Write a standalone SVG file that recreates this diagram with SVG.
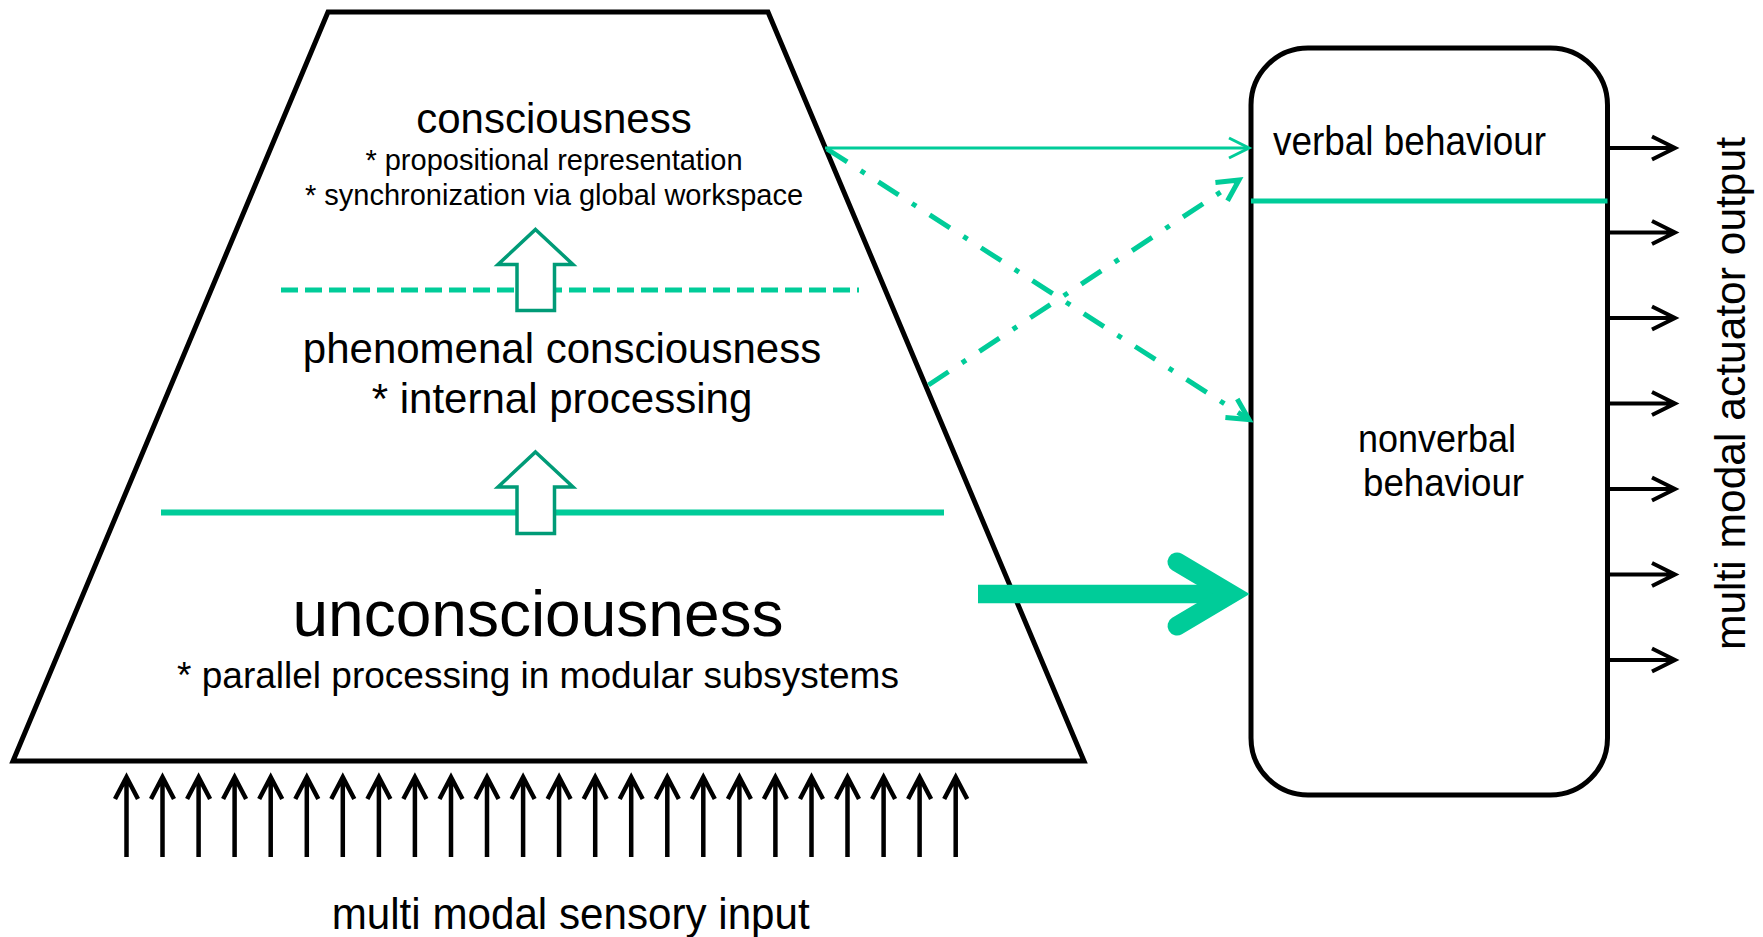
<svg xmlns="http://www.w3.org/2000/svg" width="1763" height="937" viewBox="0 0 1763 937">
<style>
text{font-family:"Liberation Sans",Arial,sans-serif;fill:#000}
.blk{fill:none;stroke:#000;stroke-width:5;stroke-linejoin:miter}
.grn{fill:none;stroke:#00CC99}
.hollow{fill:#fff;stroke:#009B77;stroke-width:3.5;stroke-linejoin:miter}
.in{fill:none;stroke:#000;stroke-width:4.5}
.out{fill:none;stroke:#000;stroke-width:4}
.dd{stroke-width:5;stroke-dasharray:24 16 5 16}
</style>
<defs>
<marker id="chevThin" markerUnits="userSpaceOnUse" orient="auto" markerWidth="40" markerHeight="40" refX="0" refY="0" viewBox="-30 -20 40 40" overflow="visible">
<path d="M-20,-10 L0,0 L-20,10" fill="none" stroke="#00CC99" stroke-width="3"/>
</marker>
<marker id="chevDD" markerUnits="userSpaceOnUse" orient="auto" markerWidth="40" markerHeight="40" refX="0" refY="0" viewBox="-30 -20 40 40" overflow="visible">
<path d="M-21,-11 L0,0 L-21,11" fill="none" stroke="#00CC99" stroke-width="5"/>
</marker>
</defs>
<rect width="1763" height="937" fill="#fff"/>

<g id="mind">
<polygon class="blk" points="328,12 768,12 1084,761 13,761" fill="#fff"/>
<line class="grn" x1="281" y1="290" x2="859" y2="290" stroke-width="5" stroke-dasharray="17 7"/>
<line class="grn" x1="161" y1="512.5" x2="944" y2="512.5" stroke-width="6"/>
<polygon class="hollow" points="535.5,229.5 573,264.5 554.5,264.5 554.5,310.5 517,310.5 517,264.5 498,264.5"/>
<polygon class="hollow" points="535.5,452 573,487 554.5,487 554.5,533.5 517,533.5 517,487 498,487"/>
<g id="consciousness">
<text x="554" y="133" font-size="42" text-anchor="middle">consciousness</text>
<text x="554" y="170" font-size="29" text-anchor="middle">* propositional representation</text>
<text x="554" y="205" font-size="29" text-anchor="middle">* synchronization via global workspace</text>
</g>
<g id="phenomenal">
<text x="562" y="363" font-size="42" text-anchor="middle">phenomenal consciousness</text>
<text x="562" y="413" font-size="42" text-anchor="middle">* internal processing</text>
</g>
<g id="unconsciousness">
<text x="538" y="636" font-size="64" text-anchor="middle">unconsciousness</text>
<text x="538" y="688" font-size="37" text-anchor="middle">* parallel processing in modular subsystems</text>
</g>
</g>

<g id="behaviour">
<rect class="blk" x="1251" y="48" width="356.5" height="747" rx="57" ry="57" fill="#fff"/>
<line class="grn" x1="1251" y1="201" x2="1607.5" y2="201" stroke-width="5"/>
<text x="1273" y="155" font-size="40" textLength="273" lengthAdjust="spacingAndGlyphs">verbal behaviour</text>
<text x="1358" y="452" font-size="38" textLength="158" lengthAdjust="spacingAndGlyphs">nonverbal</text>
<text x="1363" y="496" font-size="38" textLength="161" lengthAdjust="spacingAndGlyphs">behaviour</text>
</g>

<g id="connectors">
<line class="grn" x1="825" y1="148" x2="1249" y2="148" stroke-width="3" marker-end="url(#chevThin)"/>
<line class="grn dd" x1="827" y1="149" x2="1249" y2="419.5" marker-end="url(#chevDD)"/>
<line class="grn dd" x1="928.5" y1="385" x2="1239" y2="180" marker-end="url(#chevDD)"/>
<line class="grn" x1="978" y1="594" x2="1232" y2="594" stroke-width="18.5"/>
<path class="grn" d="M1177,562 L1231,594 L1177,626" stroke-width="19" stroke-linecap="round" stroke-linejoin="miter"/>
</g>

<g id="sensory-input">
<path class="in" d="M126.5,857V780M115,799L126.5,777L138,799"/>
<path class="in" d="M162.5,857V780M151,799L162.5,777L174,799"/>
<path class="in" d="M198.6,857V780M187.1,799L198.6,777L210.1,799"/>
<path class="in" d="M234.6,857V780M223.1,799L234.6,777L246.1,799"/>
<path class="in" d="M270.7,857V780M259.2,799L270.7,777L282.2,799"/>
<path class="in" d="M306.8,857V780M295.3,799L306.8,777L318.3,799"/>
<path class="in" d="M342.8,857V780M331.3,799L342.8,777L354.3,799"/>
<path class="in" d="M378.9,857V780M367.4,799L378.9,777L390.4,799"/>
<path class="in" d="M414.9,857V780M403.4,799L414.9,777L426.4,799"/>
<path class="in" d="M451,857V780M439.5,799L451,777L462.5,799"/>
<path class="in" d="M487,857V780M475.5,799L487,777L498.5,799"/>
<path class="in" d="M523.1,857V780M511.6,799L523.1,777L534.6,799"/>
<path class="in" d="M559.1,857V780M547.6,799L559.1,777L570.6,799"/>
<path class="in" d="M595.2,857V780M583.7,799L595.2,777L606.7,799"/>
<path class="in" d="M631.2,857V780M619.7,799L631.2,777L642.7,799"/>
<path class="in" d="M667.3,857V780M655.8,799L667.3,777L678.8,799"/>
<path class="in" d="M703.3,857V780M691.8,799L703.3,777L714.8,799"/>
<path class="in" d="M739.4,857V780M727.9,799L739.4,777L750.9,799"/>
<path class="in" d="M775.4,857V780M763.9,799L775.4,777L786.9,799"/>
<path class="in" d="M811.5,857V780M800,799L811.5,777L823,799"/>
<path class="in" d="M847.5,857V780M836,799L847.5,777L859,799"/>
<path class="in" d="M883.6,857V780M872.1,799L883.6,777L895.1,799"/>
<path class="in" d="M919.6,857V780M908.1,799L919.6,777L931.1,799"/>
<path class="in" d="M955.7,857V780M944.2,799L955.7,777L967.2,799"/>
<text x="331.7" y="929" font-size="44" textLength="478" lengthAdjust="spacingAndGlyphs">multi modal sensory input</text>
</g>

<g id="actuator-output">
<path class="out" d="M1610,148H1673M1652,136.5L1675,148L1652,159.5"/>
<path class="out" d="M1610,232.5H1673M1652,221L1675,232.5L1652,244"/>
<path class="out" d="M1610,318H1673M1652,306.5L1675,318L1652,329.5"/>
<path class="out" d="M1610,403.5H1673M1652,392L1675,403.5L1652,415"/>
<path class="out" d="M1610,489H1673M1652,477.5L1675,489L1652,500.5"/>
<path class="out" d="M1610,574.5H1673M1652,563L1675,574.5L1652,586"/>
<path class="out" d="M1610,660H1673M1652,648.5L1675,660L1652,671.5"/>
<text transform="translate(1745,393.5) rotate(-90)" font-size="42" text-anchor="middle" textLength="513" lengthAdjust="spacingAndGlyphs">multi modal actuator output</text>
</g>
</svg>
